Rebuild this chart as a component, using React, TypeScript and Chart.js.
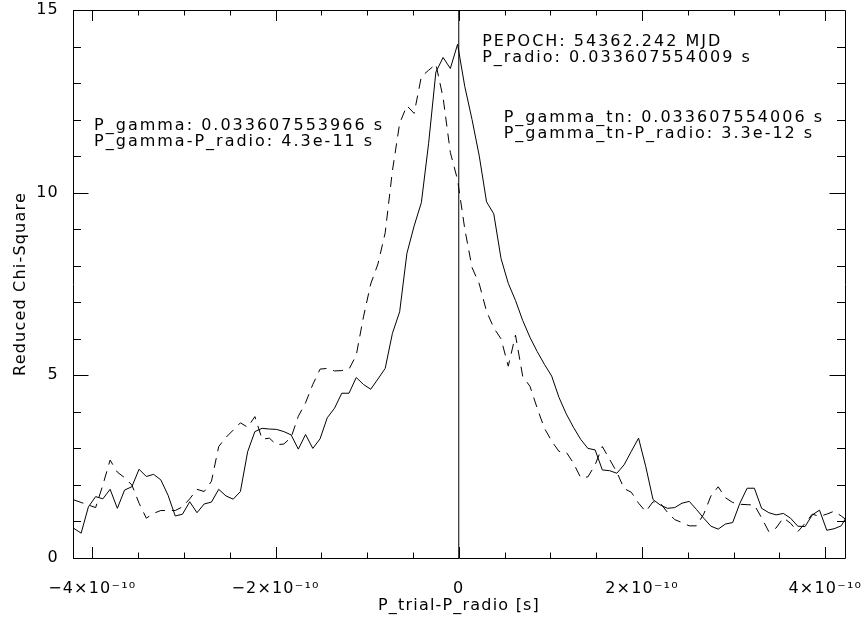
import React, { useEffect, useRef } from "react";
import { Chart, registerables } from "chart.js";

Chart.register(...registerables);

// Trial period offset P_trial - P_radio, in units of 1e-10 s
const trialOffsetE10 = [
  -4.2, -4.121, -4.042, -3.963, -3.884, -3.805, -3.726, -3.647, -3.568, -3.489,
  -3.41, -3.331, -3.252, -3.173, -3.094, -3.015, -2.936, -2.857, -2.778, -2.699,
  -2.62, -2.541, -2.462, -2.383, -2.304, -2.225, -2.146, -2.067, -1.988, -1.909,
  -1.83, -1.751, -1.672, -1.593, -1.514, -1.435, -1.356, -1.277, -1.198, -1.119,
  -1.04, -0.961, -0.882, -0.803, -0.724, -0.645, -0.566, -0.487, -0.408, -0.329,
  -0.25, -0.171, -0.092, -0.013, 0.066, 0.145, 0.224, 0.303, 0.382, 0.461,
  0.54, 0.619, 0.698, 0.777, 0.856, 0.935, 1.014, 1.093, 1.172, 1.251,
  1.33, 1.409, 1.488, 1.567, 1.646, 1.725, 1.804, 1.883, 1.962, 2.041,
  2.12, 2.199, 2.278, 2.357, 2.436, 2.515, 2.594, 2.673, 2.752, 2.831,
  2.91, 2.989, 3.068, 3.147, 3.226, 3.305, 3.384, 3.463, 3.542, 3.621,
  3.7, 3.779, 3.858, 3.937, 4.016, 4.095, 4.174, 4.253,
];

// Reduced chi-square, solid curve
const chi2Solid = [
  0.81, 0.68, 1.4, 1.68, 1.62, 1.88, 1.36, 1.86, 1.95, 2.43,
  2.23, 2.29, 2.14, 1.72, 1.15, 1.2, 1.54, 1.24, 1.48, 1.53,
  1.88, 1.7, 1.61, 1.82, 2.91, 3.46, 3.55, 3.53, 3.52, 3.46,
  3.37, 2.98, 3.38, 3.0, 3.26, 3.84, 4.1, 4.51, 4.51, 4.94,
  4.75, 4.62, 4.9, 5.19, 6.15, 6.74, 8.34, 9.09, 9.73, 11.35,
  13.3, 13.7, 13.4, 14.06, 12.9, 12.0, 11.0, 9.75, 9.42, 8.2,
  7.52, 7.05, 6.5, 6.04, 5.65, 5.3, 4.98, 4.4, 3.95, 3.58,
  3.25, 3.0, 2.96, 2.41, 2.39, 2.32, 2.55, 2.92, 3.28, 2.5,
  1.6, 1.45, 1.36, 1.38, 1.5, 1.55, 1.33, 1.09, 0.87, 0.79,
  0.93, 0.97, 1.5, 1.91, 1.91, 1.36, 1.24, 1.18, 1.22, 1.09,
  0.87, 0.86, 1.18, 1.31, 0.76, 0.8, 0.88, 1.22,
];

// Reduced chi-square, dashed curve
const chi2Dashed = [
  1.59, 1.52, 1.45, 1.38, 2.0, 2.68, 2.35, 2.2, 2.0, 1.5,
  1.09, 1.22, 1.3, 1.3, 1.3, 1.4, 1.62, 1.88, 1.82, 2.1,
  3.05, 3.3, 3.5, 3.7, 3.58, 3.87, 3.25, 3.28, 3.1, 3.12,
  3.3, 3.88, 4.25, 4.75, 5.17, 5.19, 5.12, 5.13, 5.17, 5.55,
  6.6, 7.5, 8.05, 8.9, 10.6, 11.9, 12.38, 12.17, 13.18, 13.35,
  13.52, 12.6, 11.1, 10.35, 9.0, 7.95, 7.5, 6.75, 6.3, 6.0,
  5.25, 6.1, 4.97, 4.7, 4.1, 3.55, 3.2, 2.92, 2.9, 2.6,
  2.2, 2.22, 2.55, 3.05, 2.7, 2.35, 1.9, 1.8, 1.5, 1.27,
  1.54, 1.5, 1.25, 1.05, 0.97, 0.88, 0.88, 1.2, 1.7, 1.95,
  1.65, 1.52, 1.47, 1.46, 1.45, 1.1, 0.72, 0.82, 1.1, 0.95,
  0.72, 0.95, 1.2, 1.14, 1.2, 1.28, 1.15, 1.0,
];

// Reference line at P_trial = P_radio
const zeroLineX = [0, 0];
const zeroLineY = [0, 15];

const xTickValuesE10 = [-4, -2, 0, 2, 4];
const yTickValues = [0, 5, 10, 15];

const xTitle = "P_trial-P_radio [s]";
const yTitle = "Reduced Chi-Square";

const annotationTexts = [
  "PEPOCH: 54362.242 MJD",
  "P_radio: 0.033607554009 s",
  "P_gamma: 0.033607553966 s",
  "P_gamma-P_radio: 4.3e-11 s",
  "P_gamma_tn: 0.033607554006 s",
  "P_gamma_tn-P_radio: 3.3e-12 s",
];
// anchor (left, baseline) of each annotation line in axis units
const annotationX = [0.255, 0.255, -3.98, -3.98, 0.49, 0.49];
const annotationY = [14.02, 13.58, 11.72, 11.28, 11.94, 11.5];

const FONT_FAMILY = "'DejaVu Sans', sans-serif";
const FONT_SIZE = 16;
const LETTER_SPACING = "1.2px";

function formatXTick(v: number): string {
  if (v === 0) return "0";
  const sign = v < 0 ? "\u2212" : "";
  return `${sign}${Math.abs(v)}\u00d710\u207b\u00b9\u2070`;
}

const framePlugin = {
  id: "frameAndTicks",
  beforeDraw(chart: any) {
    chart.ctx.letterSpacing = LETTER_SPACING;
  },
  afterDatasetsDraw(chart: any) {
    const { ctx, chartArea } = chart;
    const { left, right, top, bottom } = chartArea;
    const xs = chart.scales.x;
    const ys = chart.scales.y;
    ctx.save();
    ctx.strokeStyle = "#000";
    ctx.lineWidth = 1;
    ctx.beginPath();
    ctx.rect(Math.round(left) + 0.5, Math.round(top) + 0.5, Math.round(right - left), Math.round(bottom - top));
    ctx.stroke();
    ctx.beginPath();
    for (let v = Math.ceil(xs.min / 0.5) * 0.5; v <= xs.max + 1e-9; v += 0.5) {
      const px = Math.round(xs.getPixelForValue(v)) + 0.5;
      const major = Math.abs(v / 2 - Math.round(v / 2)) < 1e-6;
      const len = major ? 11 : 5.5;
      ctx.moveTo(px, bottom);
      ctx.lineTo(px, bottom - len);
      ctx.moveTo(px, top);
      ctx.lineTo(px, top + len);
    }
    for (let v = Math.ceil(ys.min); v <= ys.max + 1e-9; v += 1) {
      const py = Math.round(ys.getPixelForValue(v)) + 0.5;
      const major = v % 5 === 0;
      const len = major ? 15.5 : 8;
      ctx.moveTo(left, py);
      ctx.lineTo(left + len, py);
      ctx.moveTo(right, py);
      ctx.lineTo(right - len, py);
    }
    ctx.stroke();
    ctx.restore();
  },
  afterDraw(chart: any) {
    const { ctx } = chart;
    const xs = chart.scales.x;
    const ys = chart.scales.y;
    ctx.save();
    ctx.fillStyle = "#000";
    ctx.font = `${FONT_SIZE}px ${FONT_FAMILY}`;
    ctx.letterSpacing = "2px";
    ctx.textAlign = "left";
    ctx.textBaseline = "alphabetic";
    annotationTexts.forEach((t, i) => {
      ctx.fillText(t, xs.getPixelForValue(annotationX[i]), ys.getPixelForValue(annotationY[i]));
    });
    ctx.restore();
  },
};

export default function App() {
  const canvasRef = useRef<HTMLCanvasElement | null>(null);

  useEffect(() => {
    const canvas = canvasRef.current;
    if (!canvas) return;
    const font = { family: FONT_FAMILY, size: FONT_SIZE };
    const chart = new Chart(canvas, {
      type: "line",
      data: {
        datasets: [
          {
            label: "solid",
            data: trialOffsetE10.map((x, i) => ({ x, y: chi2Solid[i] })),
            borderColor: "#000",
            borderWidth: 1,
            pointRadius: 0,
            tension: 0,
            fill: false,
          },
          {
            label: "dashed",
            data: trialOffsetE10.map((x, i) => ({ x, y: chi2Dashed[i] })),
            borderColor: "#000",
            borderWidth: 1,
            borderDash: [10, 7],
            pointRadius: 0,
            tension: 0,
            fill: false,
          },
          {
            label: "zero",
            data: zeroLineX.map((x, i) => ({ x, y: zeroLineY[i] })),
            borderColor: "#000",
            borderWidth: 1,
            pointRadius: 0,
            fill: false,
          },
        ],
      },
      options: {
        responsive: false,
        animation: false,
        events: [],
        layout: { padding: { top: 10, right: 17, left: 0, bottom: 0 } },
        plugins: {
          legend: { display: false },
          tooltip: { enabled: false },
        },
        scales: {
          x: {
            type: "linear",
            min: -4.21,
            max: 4.215,
            grid: { display: false },
            border: { display: false },
            afterBuildTicks: (scale: any) => {
              scale.ticks = xTickValuesE10.map((value) => ({ value }));
            },
            afterFit: (scale: any) => {
              scale.height = 61;
              scale.paddingLeft = 0;
              scale.paddingRight = 0;
            },
            ticks: {
              color: "#000",
              font,
              padding: 13,
              maxRotation: 0,
              autoSkip: false,
              callback: (v: any) => formatXTick(Number(v)),
            },
            title: {
              display: true,
              text: xTitle,
              color: "#000",
              font,
              padding: { top: 0, bottom: 4 },
            },
          },
          y: {
            type: "linear",
            min: 0,
            max: 15,
            grid: { display: false },
            border: { display: false },
            afterBuildTicks: (scale: any) => {
              scale.ticks = yTickValues.map((value) => ({ value }));
            },
            afterFit: (scale: any) => {
              scale.width = 73;
              scale.paddingTop = 0;
              scale.paddingBottom = 0;
            },
            ticks: {
              color: "#000",
              font,
              padding: 6,
              callback: (v: any) => String(v),
            },
            title: {
              display: true,
              text: yTitle,
              color: "#000",
              font,
              padding: { top: 11, bottom: 0 },
            },
          },
        },
      },
      plugins: [framePlugin],
    });
    return () => chart.destroy();
  }, []);

  return (
    <div style={{ position: "fixed", left: 0, top: 0, width: 862, height: 619, background: "#fff" }}>
      <canvas ref={canvasRef} width={862} height={619} style={{ width: 862, height: 619 }} />
    </div>
  );
}
